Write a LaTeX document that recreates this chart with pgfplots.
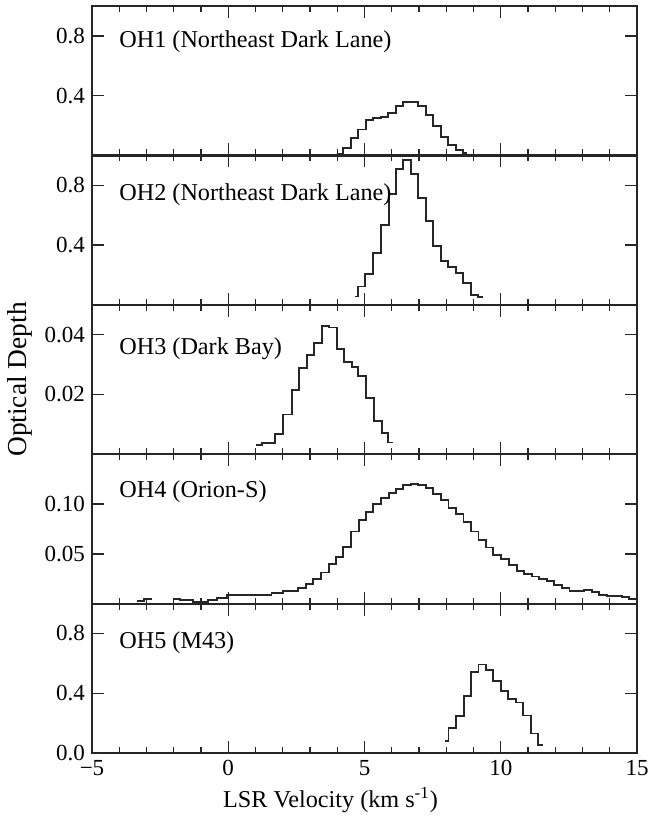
\documentclass[border=0pt]{standalone}
\usepackage{fontspec}
\setmainfont{Liberation Serif}
\usepackage{pgfplots}
\pgfplotsset{compat=1.18}
\usepgfplotslibrary{groupplots}
\tikzset{lab/.style={anchor=base west, inner sep=0pt, font=\fontsize{12.1}{14}\selectfont},
  st/.style={color=black!85, line width=0.9pt, const plot, mark=none}}
\begin{document}
\begin{tikzpicture}
\begin{groupplot}[
  group style={group name=G, group size=1 by 5, vertical sep=0pt},
  width=272.5pt, height=74.7pt, scale only axis,
  xmin=-5, xmax=15, ymin=0,
  xtick={-5,0,5,10,15}, xticklabels={}, minor x tick num=4,
  tick align=inside, xtick pos=both, ytick pos=both,
  major tick length=6pt, minor tick length=3pt,
  every tick/.style={black!85, line width=0.7pt},
  axis line style={black!85, line width=1.1pt},
  ticklabel style={font=\fontsize{11.5}{13}\selectfont},
  scaled y ticks=false,
  /pgf/number format/assume math mode=true,
]
% ---------- OH1
\nextgroupplot[ymax=1.0, ytick={0.4,0.8}, yticklabels={0.4,0.8}]
\addplot[st] coordinates {(4.03,0.013) (4.21,0.049) (4.50,0.114) (4.76,0.174) (5.06,0.235) (5.31,0.248) (5.61,0.257) (5.86,0.284) (6.16,0.331) (6.41,0.360) (6.96,0.331) (7.26,0.268) (7.51,0.195) (7.81,0.123) (8.06,0.072) (8.36,0.038) (8.61,0.018) (8.76,0.018)};
\node[lab] at (rel axis cs:0.0495,0.72) {OH1 (Northeast Dark Lane)};
% ---------- OH2
\nextgroupplot[ymax=1.0, ytick={0.4,0.8}, yticklabels={0.4,0.8}]
\addplot[st] coordinates {(4.65,0.055) (4.76,0.122) (5.02,0.207) (5.31,0.345) (5.61,0.533) (5.90,0.74) (6.16,0.907) (6.41,0.971) (6.71,0.878) (6.96,0.715) (7.26,0.56) (7.51,0.395) (7.81,0.293) (8.06,0.251) (8.36,0.215) (8.61,0.145) (8.91,0.067) (9.17,0.051) (9.35,0.051)};
\node[lab] at (rel axis cs:0.0495,0.70) {OH2 (Northeast Dark Lane)};
% ---------- OH3
\nextgroupplot[ymax=0.05, ytick={0.02,0.04}, yticklabels={0.02,0.04},
  ylabel={Optical Depth},
  ylabel style={at={(axis description cs:-0.132,0.5)}, anchor=center, font=\fontsize{13.7}{16}\selectfont}]
\addplot[st] coordinates {(1.02,0.003) (1.24,0.0037) (1.72,0.0067) (2.02,0.0133) (2.33,0.0214) (2.61,0.0289) (2.90,0.0333) (3.16,0.0372) (3.43,0.0428) (3.71,0.0424) (3.98,0.0352) (4.26,0.0308) (4.53,0.0291) (4.77,0.0261) (5.06,0.0189) (5.35,0.0111) (5.63,0.007) (5.87,0.0039) (6.03,0.0039)};
\node[lab] at (rel axis cs:0.0495,0.667) {OH3 (Dark Bay)};
% ---------- OH4
\nextgroupplot[ymax=0.15, ytick={0.05,0.10}, yticklabels={0.05,0.10}]
\addplot[st] coordinates {(-3.36,0.003) (-3.1,0.0047) (-2.81,0.0047)};
\addplot[st] coordinates {(-2.02,0.005) (-1.77,0.004) (-1.28,0.002) (-0.73,0.004) (-0.42,0.006) (-0.06,0.009) (1.59,0.0103) (2.02,0.013) (2.57,0.0157) (2.85,0.0197) (3.12,0.0247) (3.40,0.0313) (3.70,0.0397) (3.95,0.047) (4.22,0.057) (4.50,0.0723) (4.80,0.0837) (5.06,0.092) (5.32,0.0997) (5.61,0.1063) (5.90,0.1113) (6.16,0.1147) (6.42,0.119) (6.71,0.1197) (6.97,0.1187) (7.26,0.1157) (7.52,0.1103) (7.80,0.1037) (8.08,0.0963) (8.36,0.0897) (8.63,0.082) (8.91,0.0723) (9.18,0.0637) (9.46,0.0563) (9.73,0.049) (10.01,0.0447) (10.30,0.039) (10.59,0.033) (10.85,0.0297) (11.14,0.0273) (11.40,0.0247) (11.69,0.0223) (11.95,0.019) (12.24,0.0153) (12.52,0.0123) (12.79,0.013) (13.06,0.0137) (13.34,0.012) (13.61,0.009) (13.89,0.008) (14.16,0.0073) (14.44,0.0063) (14.72,0.0047) (14.99,0.003) (15.07,0.003)};
\node[lab] at (rel axis cs:0.0495,0.713) {OH4 (Orion-S)};
% ---------- OH5
\nextgroupplot[ymax=1.0, ytick={0,0.4,0.8}, yticklabels={0.0,0.4,0.8},
  xticklabels={−5,0,5,10,15},
  xlabel={LSR Velocity (km s\textsuperscript{-1})},
  xlabel style={at={(axis description cs:0.4376,-0.3146)}, anchor=center, font=\fontsize{12.1}{14}\selectfont}]
\addplot[st] coordinates {(7.95,0.08) (8.08,0.169) (8.36,0.249) (8.65,0.38) (8.91,0.542) (9.18,0.593) (9.46,0.558) (9.73,0.482) (10.01,0.415) (10.28,0.364) (10.56,0.338) (10.83,0.251) (11.11,0.131) (11.38,0.053) (11.54,0.053)};
\node[lab] at (rel axis cs:0.0495,0.70) {OH5 (M43)};
\end{groupplot}
\pgfresetboundingbox
\path ([shift={(-46pt,3pt)}]G c1r1.north west) rectangle ([shift={(6pt,-33pt)}]G c1r5.south east);
\end{tikzpicture}
\end{document}
